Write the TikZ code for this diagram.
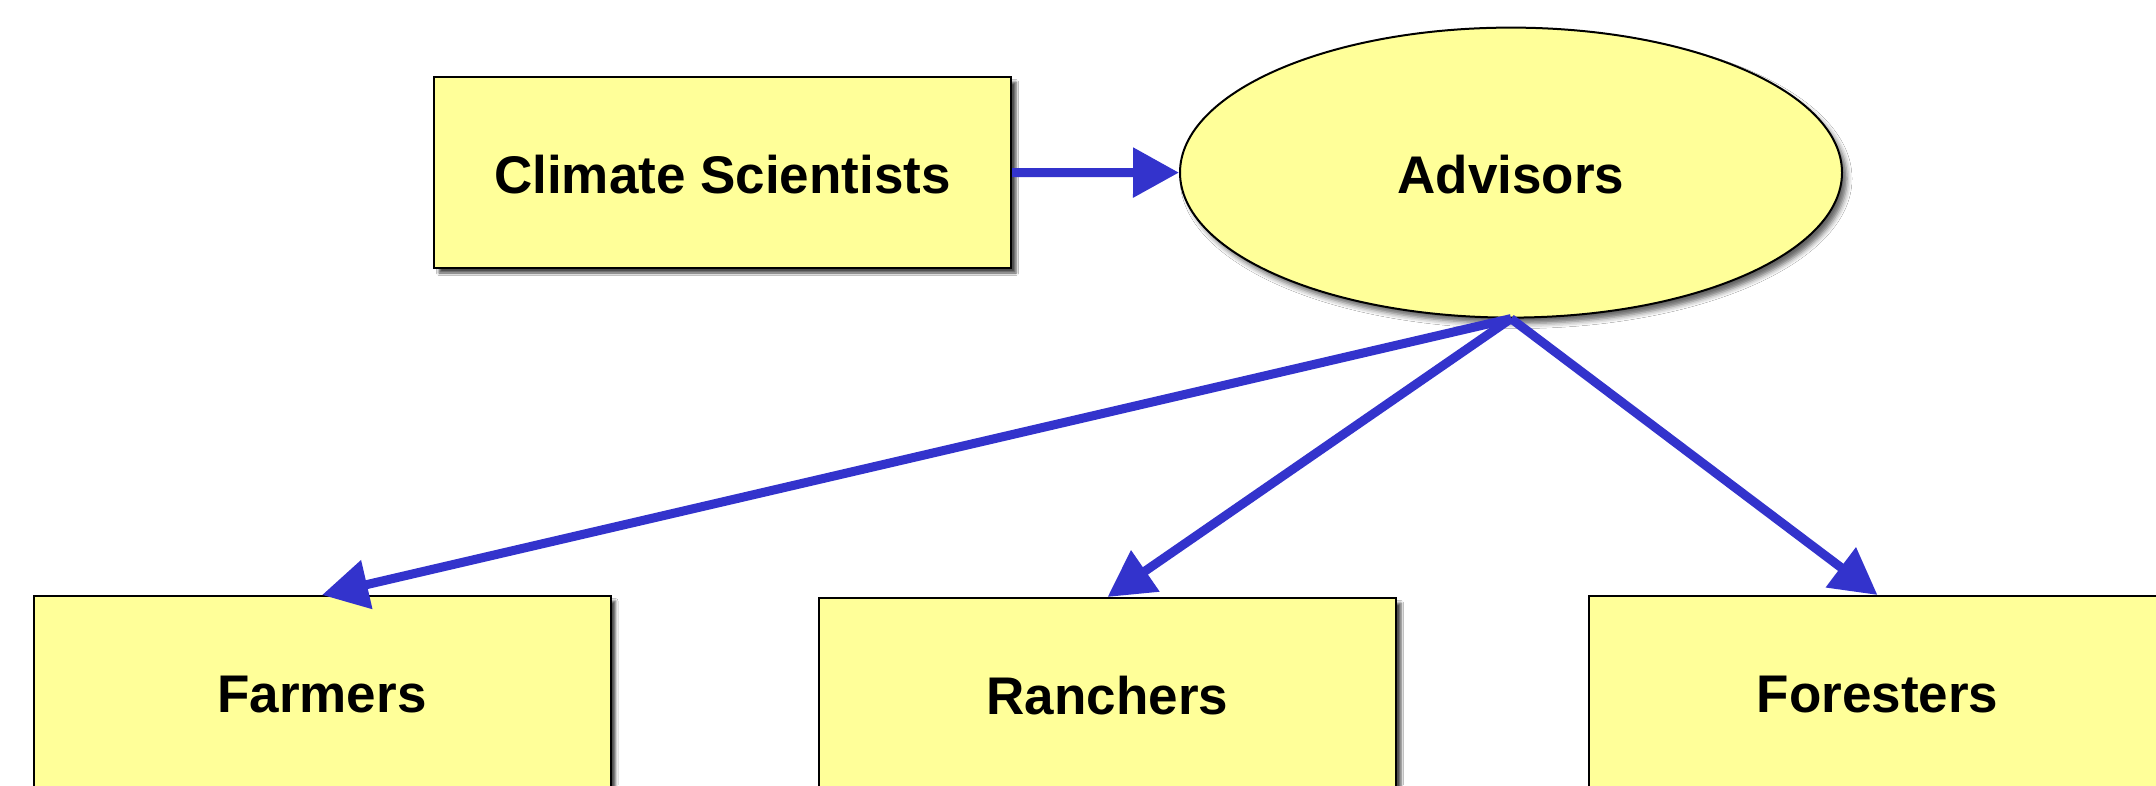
\documentclass[tikz,border=0pt]{standalone}
\usepackage{fontspec}
\setmainfont{Liberation Sans}
\usetikzlibrary{shapes.geometric,arrows.meta,shadows.blur}
\definecolor{boxfill}{HTML}{FFFF99}
\definecolor{arrowblue}{HTML}{3333CC}
\tikzset{
  lbl/.style={font=\fontsize{53pt}{60pt}\selectfont\bfseries, text height=41pt, text depth=0pt, inner sep=0pt},
  boxnode/.style={lbl, draw=black, line width=2pt, fill=boxfill, rectangle, minimum width=577pt, minimum height=191pt,
    blur shadow={shadow xshift=5pt, shadow yshift=-5pt, shadow blur radius=2.5pt, shadow opacity=70}},
  ellnode/.style={lbl, draw=black, line width=2pt, fill=boxfill, ellipse, minimum width=662pt, minimum height=290pt,
    blur shadow={shadow xshift=5pt, shadow yshift=-6pt, shadow blur radius=5pt, shadow opacity=60}},
  link/.style={draw=arrowblue, line width=9pt, -{Triangle[length=46pt, width=48pt]}, arrowblue}
}
\begin{document}
\begin{tikzpicture}[x=1pt,y=-1pt]
\clip (0,0) rectangle (2156,785);
\fill[white] (0,0) rectangle (2156,785);
\node[boxnode] (cs) at (722.5,172.5) {Climate Scientists};
\node[ellnode] (adv) at (1511,172.6) {Advisors};
\node[boxnode] (farm) at (322,691.5) {Farmers};
\node[boxnode] (ranch) at (1107.5,693.5) {Ranchers};
\node[boxnode] (forest) at (1877.5,691.5) {Foresters};
\draw[link] (cs.east) -- (adv.west);
\draw[link] (adv.south) -- (farm.north);
\draw[link] (adv.south) -- (ranch.north);
\draw[link] (adv.south) -- (forest.north);
\end{tikzpicture}
\end{document}
